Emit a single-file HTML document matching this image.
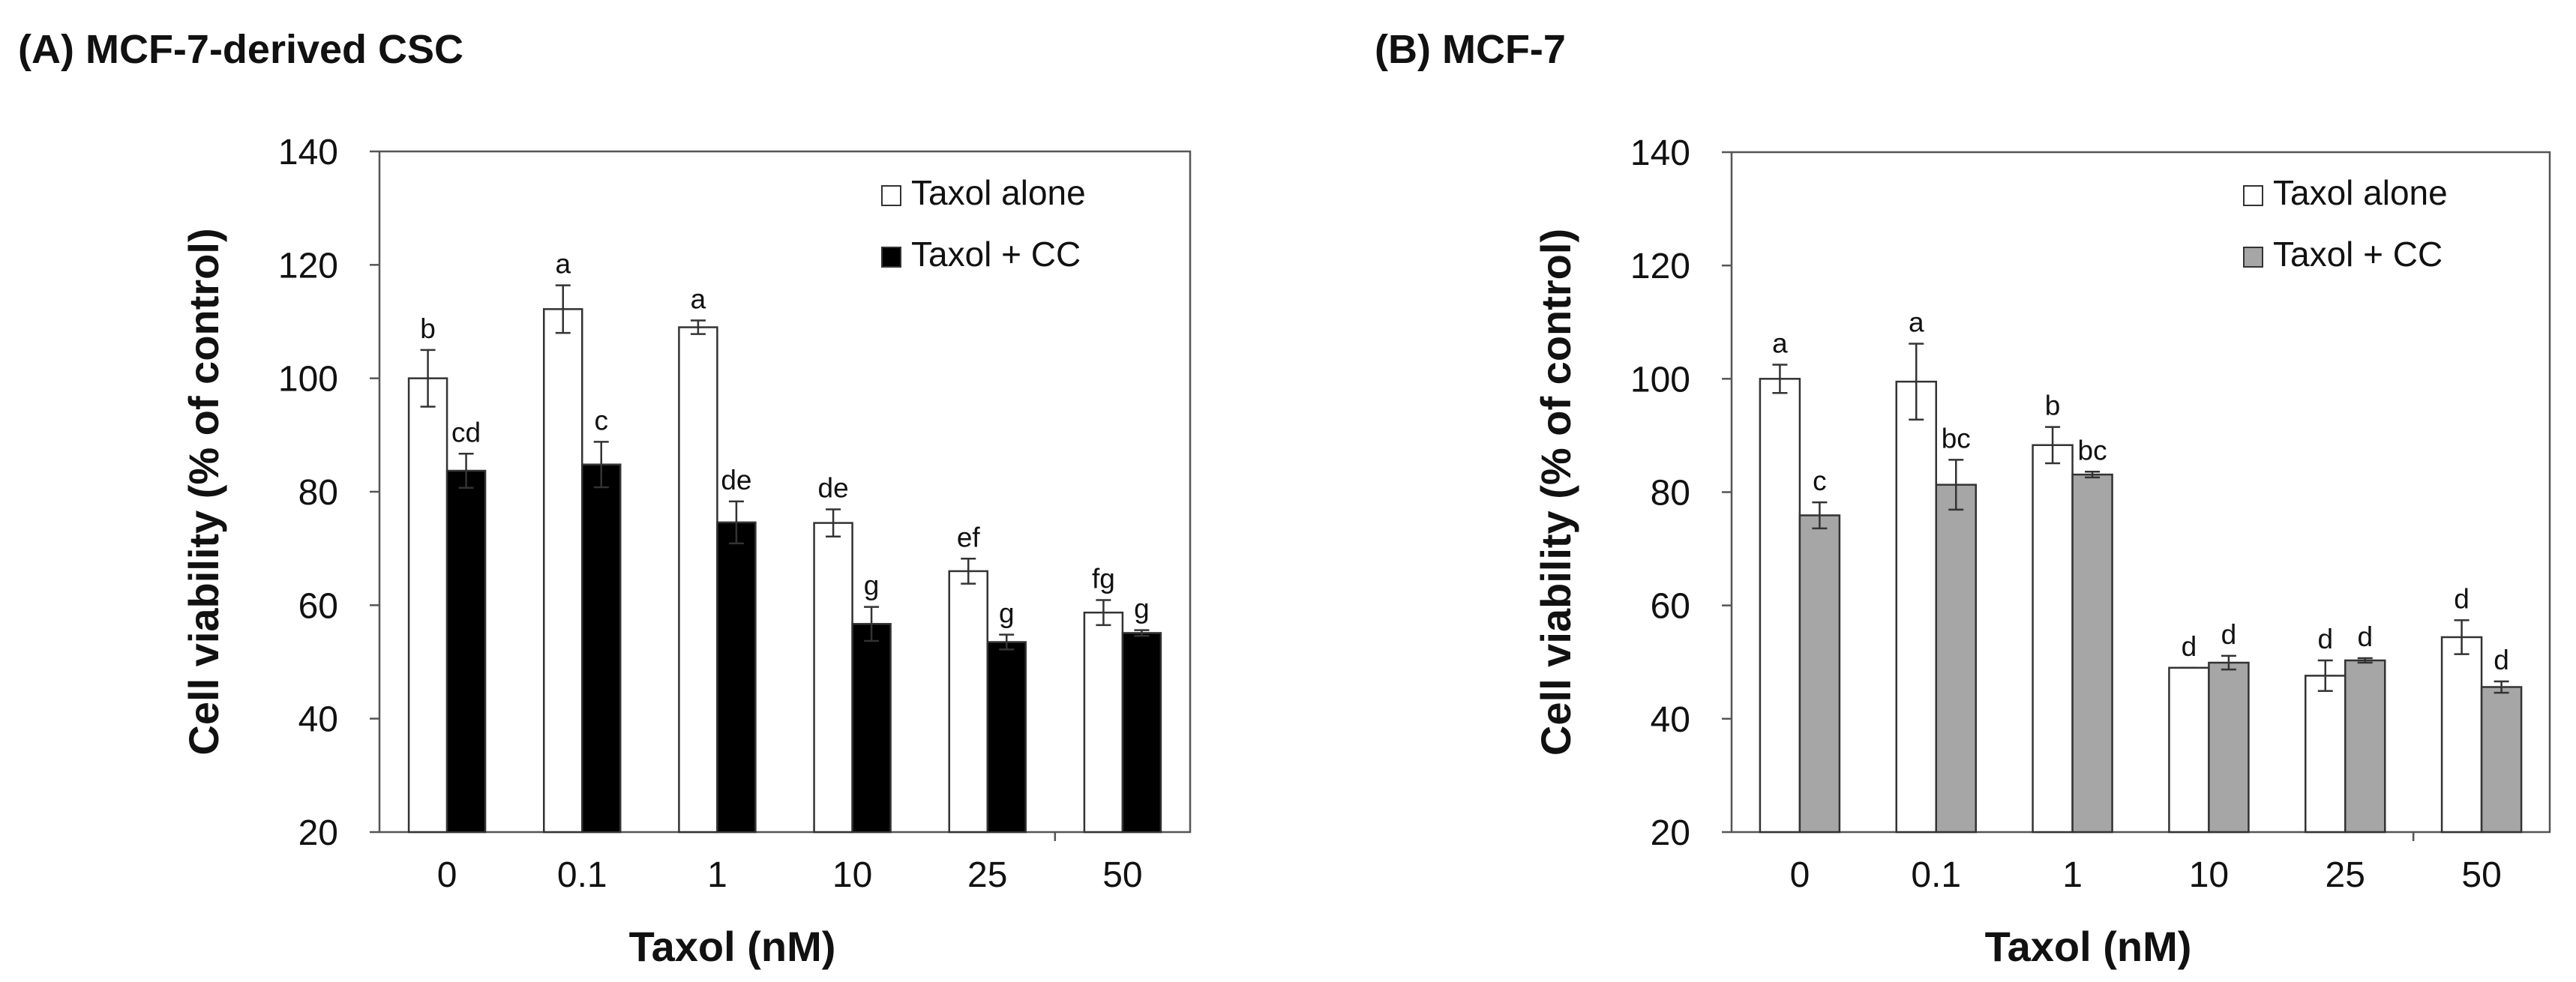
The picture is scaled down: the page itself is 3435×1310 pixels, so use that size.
<!DOCTYPE html>
<html><head><meta charset="utf-8"><style>
html,body{margin:0;padding:0;background:#fff}
svg{display:block;font-family:"Liberation Sans",Arial,sans-serif}
</style></head><body>
<svg id="chart" width="3435" height="1310" viewBox="0 0 3435 1310" xmlns="http://www.w3.org/2000/svg"></svg>
<script>
const categories = ["0","0.1","1","10","25","50"];
const yTicks = [20,40,60,80,100,120,140];
// Panel A
const aAlone = [100,112.2,109,74.5,66,58.7];
const aAloneErr = [5,4.2,1.2,2.4,2.2,2.2];
const aCC = [83.7,84.8,74.6,56.7,53.5,55.1];
const aCCErr = [3,4,3.7,3,1.3,0.5];
const aAloneLetters = ["b","a","a","de","ef","fg"];
const aCCLetters = ["cd","c","de","g","g","g"];
// Panel B
const bAlone = [100,99.5,88.3,49,47.6,54.4];
const bAloneErr = [2.5,6.7,3.2,0,2.7,3];
const bCC = [75.9,81.3,83.1,49.9,50.3,45.6];
const bCCErr = [2.3,4.4,0.5,1.2,0.4,1];
const bAloneLetters = ["a","a","b","d","d","d"];
const bCCLetters = ["c","bc","bc","d","d","d"];

const NS="http://www.w3.org/2000/svg";
const svg=document.getElementById('chart');
function mk(tag,attrs,parent,text){const e=document.createElementNS(NS,tag);for(const k in attrs)e.setAttribute(k,attrs[k]);if(text!==undefined)e.textContent=text;(parent||svg).appendChild(e);return e;}

function panel(o){
  const g=mk('g',{});
  
  
  const y=v=>o.bottom-(v-20)/120*(o.bottom-o.top);
  const bw=(o.right-o.left)/categories.length;
  const xc=i=>o.left+(i+0.5)*bw;
  // frame
  const fr=mk('rect',{x:o.left,y:o.top,width:o.right-o.left,height:o.bottom-o.top,fill:'none',stroke:'#555','stroke-width':2.5},g);
  
  
  // y ticks
  yTicks.forEach(t=>{
    const tk=mk('line',{x1:o.left-13,x2:o.left,y1:y(t),y2:y(t),stroke:'#555','stroke-width':2.5},g);
    
    
    const tl=mk('text',{x:o.left-55,y:y(t)+17,'text-anchor':'end','font-size':48,fill:'#111'},g,String(t));
    
    
  });
  // x tick at boundary before last category
  const xt=mk('line',{x1:o.left+5*bw,x2:o.left+5*bw,y1:o.bottom,y2:o.bottom+12,stroke:'#555','stroke-width':2.5},g);
  
  
  const w=o.barW;
  categories.forEach((c,i)=>{
    const series=[[o.alone,o.aloneErr,o.aloneL,'#fff',-1,'alone'],[o.cc,o.ccErr,o.ccL,o.ccFill,0,'cc']];
    series.forEach(([vals,errs,lets,fill,off,nm])=>{
      const x0=xc(i)+off*w, top=y(vals[i]);
      const r=mk('rect',{x:x0,y:top,width:w,height:o.bottom-top,fill:fill,stroke:'#333','stroke-width':2.5},g);
      
      
      const cx=x0+w/2, e1=y(vals[i]+errs[i]), e2=y(vals[i]-errs[i]);
      const eb=mk('path',{d:`M${cx},${e1}V${e2}M${cx-10},${e1}H${cx+10}M${cx-10},${e2}H${cx+10}`,stroke:'#333','stroke-width':2.5,fill:'none'},g);
      
      
      const lt=mk('text',{x:cx,y:e1-16,'text-anchor':'middle','font-size':37,fill:'#111'},g,lets[i]);
      
      
    });
    const cl=mk('text',{x:xc(i),y:o.bottom+73,'text-anchor':'middle','font-size':48,fill:'#111'},g,c);
    
    
  });
  // legend
  const items=[['Taxol alone','#fff',0],['Taxol + CC',o.ccFill,82]];
  items.forEach(([t,f,dy])=>{
    const s=mk('rect',{x:o.legX,y:248+dy,width:25,height:26,fill:f,stroke:'#333','stroke-width':2},g);
    
    
    const tx=mk('text',{x:o.legX+39,y:273+dy,'font-size':46,fill:'#111'},g,t);
    
    
  });
  const yl=mk('text',{x:0,y:0,transform:`translate(${o.left-215},${(o.top+o.bottom)/2}) rotate(-90)`,'text-anchor':'middle','font-size':56,'font-weight':'bold',fill:'#111'},g,'Cell viability (% of control)');
  
  
  const xl=mk('text',{x:(o.left+o.right)/2-70,y:1282,'text-anchor':'middle','font-size':56,'font-weight':'bold',fill:'#111'},g,'Taxol (nM)');
  
  
  const pt=mk('text',{x:o.titleX,y:84,'font-size':54,'font-weight':'bold',fill:'#111'},g,o.title);
  
  
}
panel({id:'a',left:506,right:1587,top:202,bottom:1110,barW:51,alone:aAlone,aloneErr:aAloneErr,cc:aCC,ccErr:aCCErr,aloneL:aAloneLetters,ccL:aCCLetters,ccFill:'#000',legX:1176,titleX:24,title:'(A) MCF-7-derived CSC'});
panel({id:'b',left:2309,right:3400,top:203,bottom:1110,barW:53,alone:bAlone,aloneErr:bAloneErr,cc:bCC,ccErr:bCCErr,aloneL:bAloneLetters,ccL:bCCLetters,ccFill:'#a6a6a6',legX:2992,titleX:1833,title:'(B) MCF-7'});
</script>
</body></html>
